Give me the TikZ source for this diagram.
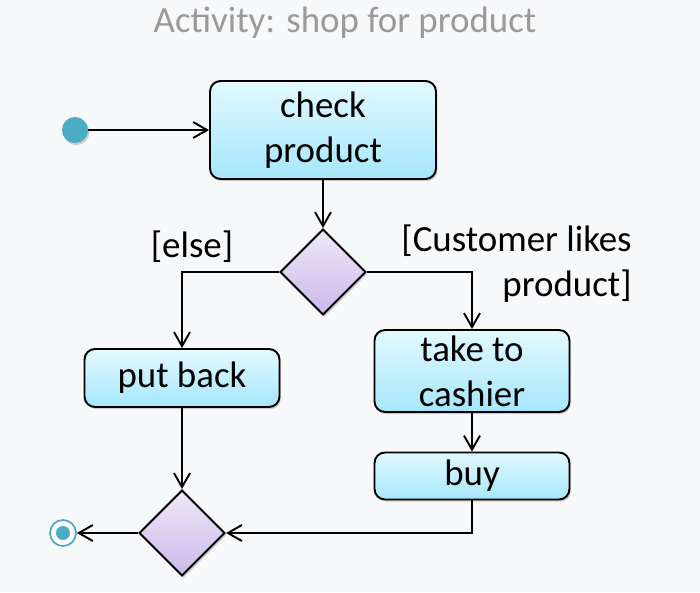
\documentclass[tikz,border=0pt]{standalone}
\usepackage{fontspec}
\setmainfont{Carlito}
\usetikzlibrary{shapes.geometric,shadows,arrows.meta}
\definecolor{bgcol}{HTML}{F7F8FA}
\definecolor{ucol}{HTML}{4BACC6}
\definecolor{boxtop}{HTML}{E3F9FF}
\definecolor{boxbot}{HTML}{A5E7FB}
\definecolor{dmdtop}{HTML}{EEE8F8}
\definecolor{dmdbot}{HTML}{CBB8EA}
\definecolor{ttlcol}{HTML}{9A9A9A}
\begin{document}
\begin{tikzpicture}
      [x=0.02cm,y=-0.02cm
      ,font=\fontsize{21}{25.5}\selectfont
      ,shd/.style={drop shadow={shadow xshift=0.8pt,shadow yshift=-1.2pt,opacity=.3,fill=black!60}}
      ,act/.style={draw,line width=1.1pt,rounded corners=6pt,top color=boxtop,bottom color=boxbot,align=center,inner sep=0pt,shd}
      ,dec/.style={diamond,draw,line width=1.1pt,minimum width=1.72cm,minimum height=1.72cm,inner sep=0pt,top color=dmdtop,bottom color=dmdbot,shd}
      ,lin/.style={line width=1.1pt,-{Straight Barb[length=0.28cm,width=0.32cm]}}
      ]
        \useasboundingbox (0,0) rectangle (700,592);
        \fill[bgcol] (0,0) rectangle (700,592);
        % title
        \node[text=ttlcol] (title) at (345,23) {Activity: shop for product};
        % nodes
        \node[circle,fill=ucol,minimum size=0.52cm,inner sep=0pt,shd] (start) at (75,130) {};
        \node[act,minimum width=4.52cm,minimum height=1.96cm] (check) at (323,130) {check\\product};
        \node[dec] (d1) at (323,272) {};
        \node[act,minimum width=3.9cm,minimum height=1.16cm] (back) at (182,378) {put back};
        \node[act,minimum width=3.9cm,minimum height=1.64cm] (take) at (472,371) {take to\\cashier};
        \node[act,minimum width=3.9cm,minimum height=0.94cm] (buy) at (472,476) {buy};
        \node[dec] (d2) at (182,533) {};
        \node[circle,draw=ucol,line width=1pt,fill=white,minimum size=0.52cm,inner sep=0pt] (end) at (63,533) {};
        \fill[ucol] (end) circle (7);
        % guards
        \node (else) at (192,247) {[else]};
        \node[align=right,anchor=east,inner sep=0pt] (likes) at (632,264) {[Customer likes\\product]};
        % flows
        \draw[lin] (start) -- (check);
        \draw[lin] (check) -- (d1);
        \draw[lin] (d1.west) -| (back);
        \draw[lin] (d1.east) -| (take);
        \draw[lin] (take) -- (buy);
        \draw[lin] (back) -- (d2);
        \draw[lin] (buy.south) |- (d2.east);
        \draw[lin] (d2) -- (end);
\end{tikzpicture}
\end{document}
